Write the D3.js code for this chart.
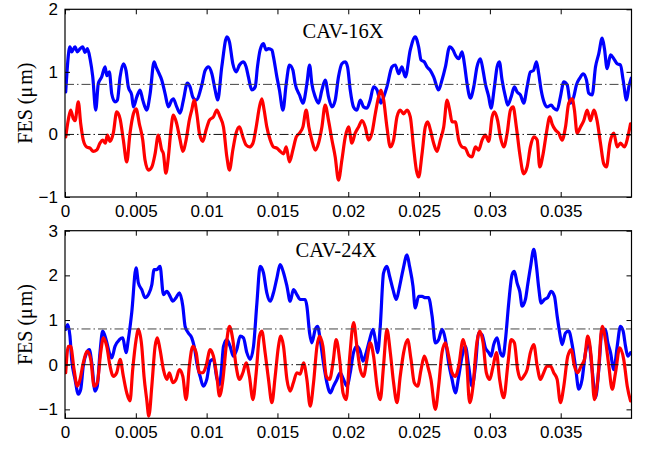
<!DOCTYPE html>
<html>
<head>
<meta charset="utf-8">
<script src="https://cdn.jsdelivr.net/npm/d3@7"></script>
<style>
  html, body { margin: 0; padding: 0; background: #fff; }
  svg { display: block; }
  .tick text { font-family: "Liberation Sans", Arial, Helvetica, sans-serif; font-size: 17px; fill: #000; }
  .tick line { stroke: #000; }
</style>
</head>
<body>
<svg id="fig" width="651" height="450"></svg>
<script>
// ---- shared axis data -------------------------------------------------
const xDomain = [0, 0.04];                       // time, s
const xTicks = [0, 0.005, 0.01, 0.015, 0.02, 0.025, 0.03, 0.035];
const yTicks16 = [-1, 0, 1, 2];
const yTicks24 = [-1, 0, 1, 2, 3];
const refLevels = [0.8, 0];                      // dash-dot reference levels, µm

// ---- CAV-16X ------------------------------------------------------------
// times in milliseconds, FES in µm
const tBlue16 = [0.05,0.35,0.47,0.71,0.87,1.06,1.25,1.41,1.58,1.77,1.96,2.17,2.35,2.59,2.83,2.95,3.13,3.30,3.53,3.70,3.89,4.12,4.31,4.47,4.71,4.83,5.07,5.30,5.49,5.77,6.01,6.29,6.43,6.59,6.83,7.07,7.30,7.54,7.65,7.89,8.13,8.36,8.64,8.83,9.02,9.26,9.66,9.89,10.13,10.37,10.60,10.78,11.07,11.43,11.61,11.85,12.08,12.32,12.60,12.79,12.95,13.19,13.43,13.59,13.78,14.01,14.20,14.37,14.61,14.72,14.96,15.14,15.39,15.62,15.85,16.09,16.25,16.56,16.80,17.08,17.27,17.43,17.67,17.90,18.14,18.37,18.61,18.85,19.08,19.31,19.55,19.79,19.95,20.14,20.37,20.61,20.85,21.08,21.32,21.55,21.79,22.03,22.31,22.50,22.73,23.09,23.32,23.56,23.79,24.03,24.38,24.73,24.97,25.14,25.37,25.56,25.80,26.03,26.38,26.62,26.86,27.16,27.40,27.56,27.80,28.04,28.20,28.39,28.62,28.86,29.09,29.33,29.52,29.68,29.92,30.08,30.32,30.51,30.67,30.86,31.10,31.26,31.50,31.73,31.92,32.16,32.39,32.63,32.86,33.07,33.29,33.45,33.62,33.85,34.04,34.33,34.51,34.75,34.98,35.22,35.46,35.69,35.92,36.11,36.35,36.59,36.82,36.98,37.22,37.46,37.69,37.93,38.09,38.28,38.52,38.75,38.99,39.22,39.41,39.65,39.81,39.98];
const fesBlue16 = [0.68,1.40,1.32,1.40,1.32,1.37,1.40,1.31,1.37,1.21,0.92,0.39,0.81,0.92,1.08,0.94,1.00,0.65,0.52,0.55,0.92,1.13,1.02,0.76,0.63,0.44,0.60,0.71,0.55,0.39,0.65,1.16,1.08,1.00,0.87,0.65,0.44,0.55,0.57,0.44,0.34,0.55,0.82,0.76,0.60,0.55,0.79,1.02,1.08,0.97,0.71,0.55,1.08,1.56,1.48,1.13,1.00,1.11,1.16,1.08,0.92,0.71,0.76,1.08,1.35,1.45,1.35,1.37,1.35,1.24,0.92,0.71,0.39,0.81,1.11,1.03,0.81,0.63,0.50,0.81,1.11,0.81,0.60,0.50,0.71,0.87,0.60,0.44,0.55,0.92,1.13,1.16,1.08,0.71,0.44,0.39,0.55,0.44,0.42,0.55,0.76,0.71,0.50,0.60,0.76,1.08,1.11,0.97,1.08,0.92,1.35,1.56,1.40,1.19,1.16,1.08,1.02,0.92,0.71,0.87,1.08,1.40,1.35,1.27,1.21,1.32,1.13,0.81,0.58,0.76,1.08,1.21,1.02,0.81,0.60,0.42,0.76,1.08,1.16,0.87,0.60,0.47,0.60,0.76,0.68,0.63,0.50,0.76,1.00,1.02,1.16,0.97,0.71,0.50,0.44,0.47,0.42,0.39,0.60,0.84,0.79,0.50,0.60,0.79,0.90,0.97,0.87,0.66,0.63,1.08,1.29,1.54,1.37,1.05,1.27,1.21,1.13,1.11,0.87,0.55,0.76,0.90];

const tRed16 = [0.05,0.23,0.40,0.59,0.71,0.94,1.11,1.29,1.53,1.77,2.00,2.24,2.47,2.66,2.85,2.99,3.18,3.41,3.65,3.89,4.12,4.36,4.59,4.83,5.02,5.25,5.49,5.65,5.89,6.13,6.36,6.59,6.83,6.95,7.12,7.30,7.47,7.65,7.89,8.13,8.32,8.55,8.78,8.95,9.12,9.31,9.49,9.73,9.96,10.20,10.48,10.72,10.95,11.19,11.43,11.61,11.85,12.08,12.32,12.56,12.79,13.02,13.27,13.50,13.73,13.90,14.06,14.25,14.49,14.72,14.96,15.19,15.43,15.62,15.85,16.09,16.33,16.56,16.80,17.03,17.22,17.43,17.67,17.90,18.14,18.37,18.61,18.85,19.08,19.31,19.55,19.79,20.02,20.26,20.49,20.73,20.97,21.20,21.43,21.67,21.91,22.14,22.31,22.50,22.73,22.97,23.20,23.44,23.67,23.91,24.15,24.38,24.61,24.81,24.97,25.21,25.44,25.61,25.80,26.03,26.27,26.50,26.74,26.98,27.16,27.33,27.56,27.80,28.04,28.27,28.50,28.74,28.98,29.21,29.45,29.68,29.92,30.16,30.32,30.55,30.74,30.98,31.22,31.45,31.64,31.87,32.11,32.39,32.63,32.86,33.10,33.34,33.52,33.76,33.99,34.23,34.39,34.63,34.86,35.10,35.34,35.57,35.81,35.97,36.16,36.40,36.63,36.87,37.10,37.34,37.57,37.81,38.04,38.23,38.47,38.75,38.99,39.22,39.51,39.74,39.93];
const fesRed16 = [-0.04,0.23,0.39,0.25,0.22,0.52,0.17,-0.09,-0.20,-0.22,-0.27,-0.25,-0.14,-0.09,-0.14,-0.01,-0.11,0.02,0.36,0.25,-0.09,-0.44,0.02,0.33,0.41,0.17,-0.09,-0.41,-0.57,-0.52,-0.31,-0.01,-0.25,-0.31,-0.62,-0.36,0.05,0.31,0.17,-0.09,-0.27,-0.09,0.23,0.39,0.55,0.33,0.02,-0.11,0.07,0.23,0.28,0.39,0.28,0.12,-0.36,-0.57,-0.25,0.02,0.12,-0.04,-0.17,-0.20,-0.14,0.12,0.44,0.57,0.39,0.12,-0.09,-0.20,-0.22,-0.27,-0.31,-0.20,-0.44,-0.25,-0.04,0.02,0.12,0.39,0.12,-0.09,-0.25,-0.14,0.12,0.47,0.22,-0.09,-0.36,-0.73,-0.41,-0.04,0.12,-0.14,0.02,0.12,0.22,0.12,-0.09,0.02,0.33,0.60,0.71,0.55,0.12,-0.20,-0.09,0.28,0.39,0.33,0.39,0.28,-0.20,-0.57,-0.68,-0.31,0.12,0.20,0.07,-0.14,-0.27,-0.09,0.12,0.55,0.39,0.20,0.20,-0.09,-0.20,-0.22,-0.33,-0.36,-0.20,-0.25,-0.09,-0.01,-0.11,0.28,0.36,0.22,-0.04,-0.20,0.02,0.39,0.44,0.12,-0.31,-0.63,-0.52,-0.20,-0.04,-0.09,-0.52,-0.31,0.02,0.28,0.17,0.07,0.02,-0.09,0.12,0.50,0.57,0.39,0.02,0.12,0.22,0.39,0.22,0.39,0.22,-0.14,-0.47,-0.52,-0.14,0.02,-0.20,-0.14,-0.20,-0.04,0.17];

// ---- CAV-24X ------------------------------------------------------------
const tBlue24 = [0.05,0.19,0.35,0.47,0.71,0.94,1.11,1.29,1.53,1.72,1.89,2.12,2.28,2.47,2.66,2.90,3.13,3.30,3.53,3.84,4.08,4.31,4.47,4.71,5.02,5.18,5.42,5.65,5.89,6.13,6.29,6.48,6.71,6.95,7.19,7.42,7.61,7.84,8.08,8.32,8.48,8.71,8.95,9.12,9.35,9.54,9.77,10.01,10.25,10.48,10.72,10.91,11.05,11.19,11.43,11.66,11.89,12.13,12.37,12.60,12.84,13.07,13.31,13.55,13.78,14.01,14.25,14.49,14.72,14.96,15.19,15.43,15.67,15.90,16.13,16.37,16.61,16.96,17.08,17.27,17.43,17.67,17.83,18.02,18.25,18.49,18.73,18.96,19.20,19.43,19.67,19.91,20.14,20.37,20.61,20.85,21.04,21.27,21.51,21.75,21.91,22.07,22.26,22.49,22.73,22.92,23.16,23.39,23.63,23.87,24.15,24.33,24.57,24.73,24.97,25.21,25.44,25.67,25.92,26.15,26.38,26.62,26.86,27.09,27.33,27.56,27.80,28.04,28.27,28.50,28.74,28.98,29.21,29.45,29.68,29.92,30.08,30.27,30.51,30.74,30.93,31.10,31.33,31.57,31.73,31.92,32.11,32.28,32.51,32.67,32.86,33.10,33.29,33.45,33.62,33.85,34.08,34.33,34.56,34.75,34.93,35.10,35.34,35.57,35.81,36.04,36.28,36.51,36.75,36.98,37.22,37.46,37.69,37.93,38.16,38.33,38.52,38.75,38.99,39.22,39.41,39.58,39.74,39.93];
const fesBlue24 = [0.79,0.90,0.64,0.12,-0.33,-0.66,-0.55,-0.03,0.27,0.34,0.04,-0.59,-0.48,0.27,0.75,0.56,0.27,0.15,0.41,0.56,0.60,0.27,0.56,1.16,2.17,1.83,1.68,1.50,1.57,1.79,2.13,2.13,2.20,1.57,1.64,1.53,1.42,1.50,1.61,1.31,0.86,0.71,0.60,0.41,-0.03,-0.26,-0.48,-0.33,0.08,0.12,-0.30,-0.45,-0.10,0.41,0.56,0.41,0.19,0.34,0.64,0.60,0.27,0.12,0.41,1.38,2.20,2.06,1.61,1.42,1.61,1.94,2.24,2.06,1.76,1.42,1.68,1.57,1.46,1.46,1.31,0.71,0.49,0.79,0.86,0.56,0.04,-0.40,-0.63,-0.48,-0.33,-0.18,-0.33,-0.48,-0.18,0.27,0.41,0.30,0.08,0.27,0.56,0.79,0.56,0.27,0.86,2.05,2.20,1.98,1.68,1.46,1.76,2.13,2.46,2.20,1.76,1.27,1.53,1.53,1.50,1.50,1.09,0.49,0.56,0.79,0.56,0.04,-0.33,-0.63,-0.26,0.19,0.41,-0.03,-0.48,-0.03,0.71,0.67,0.38,0.27,0.19,0.45,0.60,0.27,0.19,0.56,1.38,2.02,2.09,1.83,1.64,1.31,1.46,1.79,2.17,2.58,2.20,1.72,1.38,1.46,1.50,1.64,1.53,1.09,0.71,0.45,0.71,0.75,0.45,-0.03,-0.55,-0.33,0.27,0.49,-0.11,-0.74,-0.11,0.79,0.79,0.49,0.27,-0.11,0.41,0.86,0.75,0.41,0.19,0.27];

const tRed24 = [0.05,0.23,0.40,0.64,0.87,1.06,1.29,1.58,1.82,2.05,2.28,2.52,2.71,2.95,3.18,3.41,3.65,3.89,4.12,4.36,4.59,4.78,5.02,5.18,5.42,5.58,5.77,5.92,6.13,6.36,6.52,6.71,6.95,7.19,7.37,7.61,7.84,8.08,8.32,8.55,8.78,9.02,9.26,9.49,9.73,9.96,10.25,10.48,10.72,10.91,11.15,11.38,11.61,11.85,12.08,12.32,12.56,12.79,13.02,13.27,13.50,13.73,13.90,14.13,14.37,14.61,14.84,15.07,15.24,15.43,15.67,15.90,16.13,16.37,16.61,16.84,17.08,17.31,17.55,17.79,17.97,18.21,18.45,18.68,18.92,19.15,19.39,19.63,19.86,20.09,20.38,20.61,20.85,21.08,21.32,21.55,21.79,22.03,22.26,22.49,22.73,22.97,23.20,23.44,23.67,23.91,24.19,24.43,24.66,24.90,25.14,25.37,25.61,25.84,26.15,26.38,26.62,26.86,27.09,27.33,27.56,27.80,28.11,28.34,28.57,28.81,29.05,29.28,29.52,29.75,29.99,30.23,30.46,30.69,30.98,31.26,31.50,31.73,31.96,32.20,32.39,32.63,32.86,33.10,33.34,33.57,33.80,34.04,34.28,34.51,34.75,34.98,35.22,35.50,35.74,35.97,36.20,36.44,36.68,36.91,37.15,37.38,37.62,37.93,38.16,38.40,38.64,38.87,39.17,39.45,39.70,39.93];
const fesRed24 = [-0.18,0.41,0.41,-0.11,-0.48,-0.33,0.04,0.30,0.12,-0.48,-0.40,0.27,0.60,0.41,-0.03,-0.26,-0.18,0.12,-0.26,-0.63,-0.81,-0.11,0.56,0.79,0.41,-0.26,-0.78,-1.15,-0.48,0.41,0.60,0.34,-0.11,-0.33,-0.18,-0.40,-0.33,-0.11,-0.26,-0.78,-0.03,0.41,0.27,-0.18,-0.18,-0.03,0.34,0.19,-0.26,-0.70,-0.33,0.41,0.86,0.56,-0.03,-0.33,-0.18,0.04,-0.26,-0.78,-0.18,0.64,0.75,0.27,-0.33,-0.85,-0.26,0.41,0.64,0.41,-0.33,-0.59,-0.40,-0.18,-0.21,0.04,-0.33,-0.93,-0.40,0.41,0.64,0.41,-0.26,-0.33,0.04,0.56,0.12,-0.63,-0.78,0.12,0.94,0.41,-0.11,-0.26,0.12,0.49,0.19,-0.48,-0.78,-0.03,0.79,0.27,-0.40,-0.85,-0.26,0.27,0.56,0.12,-0.40,-0.48,-0.11,0.19,-0.03,-0.33,-1.00,-0.48,0.27,0.49,0.19,-0.18,-0.26,-0.03,0.56,0.19,-0.85,-0.48,0.41,0.75,0.49,-0.18,-0.33,-0.03,0.27,-0.33,-0.74,-0.03,0.56,0.49,-0.11,-0.33,-0.26,-0.11,0.27,0.45,-0.03,-0.33,-0.18,-0.03,-0.03,-0.18,-0.33,-0.85,-0.48,0.19,0.34,-0.03,-0.18,-0.03,0.12,0.64,0.19,-0.78,-0.33,0.86,0.56,-0.03,-0.55,-0.18,0.38,0.12,-0.48,-0.81];

// ---- figure ---------------------------------------------------------------
const svg = d3.select("#fig");
const MS = 1e-3;   // stored times are in ms, the axis is in s
const left = 65, right = 631.5;

const panels = [
  { id: "p16", title: "CAV-16X", top: 9.3, bottom: 197, yDomain: [-1, 2], yTicks: yTicks16,
    titleX: 343, titleY: 38,
    series: [ { t: tBlue16, v: fesBlue16, color: "#0000ff" }, { t: tRed16, v: fesRed16, color: "#ff0000" } ] },
  { id: "p24", title: "CAV-24X", top: 230.7, bottom: 418.3, yDomain: [-1.2, 3], yTicks: yTicks24,
    titleX: 336, titleY: 257,
    series: [ { t: tBlue24, v: fesBlue24, color: "#0000ff" }, { t: tRed24, v: fesRed24, color: "#ff0000" } ] }
];

const fmtX = d => d === 0 ? "0" : String(+d.toFixed(3));

panels.forEach(p => {
  const x = d3.scaleLinear().domain(xDomain).range([left, right]);
  const y = d3.scaleLinear().domain(p.yDomain).range([p.bottom, p.top]);
  const g = svg.append("g").attr("id", p.id);

  g.append("clipPath").attr("id", "clip-" + p.id)
    .append("rect").attr("x", left).attr("y", p.top)
    .attr("width", right - left).attr("height", p.bottom - p.top);

  const plot = g.append("g").attr("clip-path", `url(#clip-${p.id})`);

  // traces
  const line = d3.line().curve(d3.curveMonotoneX).x(d => x(d[0] * MS)).y(d => y(d[1]));
  p.series.forEach(s => {
    plot.append("path")
      .datum(s.t.map((t, i) => [t, s.v[i]]))
      .attr("d", line)
      .attr("fill", "none")
      .attr("stroke", s.color)
      .attr("stroke-width", 3.2)
      .attr("stroke-linejoin", "round")
      .attr("stroke-linecap", "round");
  });

  // dash-dot reference levels
  plot.selectAll("line.ref").data(refLevels).enter().append("line")
    .attr("class", "ref")
    .attr("x1", left).attr("x2", right)
    .attr("y1", d => y(d)).attr("y2", d => y(d))
    .attr("stroke", d => d === 0 ? "#111" : "#444")
    .attr("stroke-width", 1)
    .attr("stroke-dasharray", "9,3,1.5,3");

  // axes, ticks pointing inward on all four sides
  const xb = g.append("g").attr("transform", `translate(0,${p.bottom})`)
    .call(d3.axisBottom(x).tickValues(xTicks).tickSizeInner(-5).tickSizeOuter(0).tickPadding(8).tickFormat(fmtX));
  const xt = g.append("g").attr("transform", `translate(0,${p.top})`)
    .call(d3.axisTop(x).tickValues(xTicks).tickSizeInner(-5).tickSizeOuter(0).tickFormat(""));
  const yl = g.append("g").attr("transform", `translate(${left},0)`)
    .call(d3.axisLeft(y).tickValues(p.yTicks).tickSizeInner(-5).tickSizeOuter(0).tickPadding(7).tickFormat(d3.format("d")));
  const yr = g.append("g").attr("transform", `translate(${right},0)`)
    .call(d3.axisRight(y).tickValues(p.yTicks).tickSizeInner(-5).tickSizeOuter(0).tickFormat(""));
  [xb, xt, yl, yr].forEach(a => a.select(".domain").remove());

  // axes box
  g.append("rect")
    .attr("x", left).attr("y", p.top)
    .attr("width", right - left).attr("height", p.bottom - p.top)
    .attr("fill", "none").attr("stroke", "#000").attr("stroke-width", 1.2);

  // panel caption
  g.append("text")
    .attr("x", p.titleX).attr("y", p.titleY)
    .attr("text-anchor", "middle")
    .style("font-family", '"Liberation Serif", "Times New Roman", serif')
    .style("font-size", "20.5px")
    .text(p.title);

  // y label
  const yLab = g.append("text")
    .attr("transform", `translate(32,${(p.top + p.bottom) / 2}) rotate(-90)`)
    .attr("text-anchor", "middle")
    .style("font-family", '"Liberation Serif", "Times New Roman", serif')
    .style("font-size", "20px");
  yLab.append("tspan").text("FES (μ");
  yLab.append("tspan").attr("dx", 2).text("m)");
});
</script>
</body>
</html>
